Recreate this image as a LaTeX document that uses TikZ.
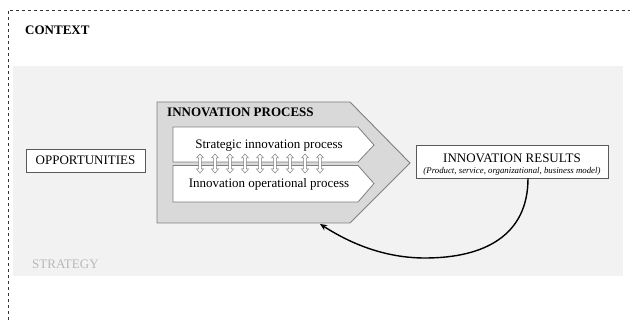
\documentclass[tikz,border=0pt]{standalone}
\usepackage{fontspec}
\setmainfont{Liberation Serif}
\usetikzlibrary{arrows.meta}
\definecolor{bgstrat}{HTML}{F2F2F2}
\definecolor{procfill}{HTML}{D9D9D9}
\definecolor{procline}{HTML}{7F7F7F}
\definecolor{boxline}{HTML}{5A5A5A}
\definecolor{stratxt}{HTML}{B8B8B8}
\tikzset{
  mainfont/.style={font=\fontsize{13}{15}\selectfont},
  boldfont/.style={font=\fontsize{13}{15}\selectfont\bfseries},
  rectbox/.style={draw=boxline, line width=0.9pt, fill=white, inner sep=0pt},
  procshape/.style={draw=procline, line width=0.9pt, fill=procfill},
  innershape/.style={draw=procline, line width=0.8pt, fill=white},
  dblarrow/.style={draw=procline, line width=0.5pt, fill=white},
  feedback/.style={draw=black, line width=1.4pt, -{Stealth[length=7pt,width=6pt]}},
}
\begin{document}
\begin{tikzpicture}[x=1pt,y=-1pt]
\useasboundingbox (0,0) rectangle (630,320);
% context border
\draw[dashed, line width=0.5pt, black!80] (8,320) -- (8,10) -- (630,10);
\node[boldfont, anchor=base west, inner sep=0pt] (ctx) at (25,35) {CONTEXT};
% strategy background
\fill[bgstrat] (13,66) rectangle (623,276);
\node[mainfont, text=stratxt, anchor=base west, inner sep=0pt] (strat) at (32,269) {STRATEGY};
% opportunities
\node[rectbox, mainfont, minimum width=119pt, minimum height=23pt] (opp) at (85.5,160.5) {OPPORTUNITIES};
% innovation process pentagon
\path[procshape] (157,102) -- (350,102) -- (410,163) -- (350,223) -- (157,223) -- cycle;
\coordinate (pbottom) at (320,224);
\node[boldfont, anchor=base west, inner sep=0pt] (ip) at (167,117) {INNOVATION PROCESS};
% inner processes
\path[innershape] (173,127) -- (358,127) -- (374,145) -- (358,162) -- (173,162) -- cycle;
\path[innershape] (173,165.5) -- (358,165.5) -- (374,183.5) -- (358,202) -- (173,202) -- cycle;
\node[mainfont, anchor=base, inner sep=0pt] (sip) at (269,149) {Strategic innovation process};
\node[mainfont, anchor=base, inner sep=0pt] (iop) at (269,188) {Innovation operational process};
% double arrows
\foreach \cx in {200,215,...,320} {
  \path[dblarrow] (\cx,154) -- (\cx+3.5,158) -- (\cx+1.3,158) -- (\cx+1.3,169) -- (\cx+3.5,169)
     -- (\cx,173) -- (\cx-3.5,169) -- (\cx-1.3,169) -- (\cx-1.3,158) -- (\cx-3.5,158) -- cycle;
}
% innovation results
\node[rectbox, minimum width=192pt, minimum height=33pt] (res) at (512,161.5) {};
\node[mainfont, anchor=base, inner sep=0pt] (restitle) at (512,162.5) {INNOVATION RESULTS};
\node[font=\fontsize{8.8}{10}\selectfont\itshape, anchor=base, inner sep=0pt] (ressub) at (512,173.5) {(Product, service, organizational, business model)};
% feedback arrow
\draw[feedback] (res.south -| 528,0) .. controls (528,235) and (485,258) .. (425,258)
   .. controls (380,258) and (345,240) .. (pbottom);
\end{tikzpicture}
\end{document}
